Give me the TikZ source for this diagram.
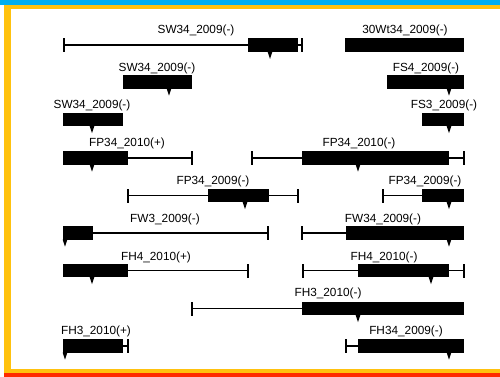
\documentclass[tikz,border=0pt]{standalone}
\usepackage{fontspec}
\setmainfont{Liberation Sans}
\definecolor{fblue}{HTML}{00AEEF}
\definecolor{forange}{HTML}{FFC20E}
\definecolor{fred}{HTML}{FF2A00}
\newcommand\genetri[2]{\fill (#1-2.3,#2) -- (#1+2.3,#2) -- (#1,#2+7) -- cycle;}
\begin{document}
\begin{tikzpicture}[x=1pt,y=-1pt,
  exon/.style={fill=black, inner sep=0pt, outer sep=0pt, minimum height=13.5pt, anchor=west},
  tickmark/.style={fill=black, inner sep=0pt, outer sep=0pt, minimum height=14pt, minimum width=1.3pt},
  intron/.style={line width=1.2pt},
  lab/.style={inner sep=0pt, font=\fontsize{11.8}{12}\selectfont}]
\useasboundingbox (0,0) rectangle (500,377);
\fill[white] (0,0) rectangle (500,377);
% frame
\fill[fblue] (0,0) rectangle (500,5.5);
\fill[forange] (4,5.5) rectangle (500,9.5);
\fill[forange] (4,5.5) rectangle (11,373);
\fill[forange] (4,369) rectangle (500,373);
\fill[fred] (4,373) rectangle (500,377);

% row 1
\node[lab] (l1a) at (196,30) {SW34\_2009(-)};
\node[tickmark] (t1a) at (64,45) {};
\node[exon, minimum width=50pt] (e1a) at (248,45) {};
\node[tickmark] (t1b) at (302,45) {};
\draw[intron] (t1a) -- (e1a);
\draw[intron] (e1a) -- (t1b);
\genetri{270}{52}
\node[lab] (l1b) at (405,30) {30Wt34\_2009(-)};
\node[exon, minimum width=119pt] (e1b) at (345,45) {};

% row 2
\node[lab] (l2a) at (157,68) {SW34\_2009(-)};
\node[exon, minimum width=69pt] (e2a) at (123,82) {};
\genetri{169}{88.7}
\node[lab] (l2b) at (426,68) {FS4\_2009(-)};
\node[exon, minimum width=77pt] (e2b) at (387,82) {};
\genetri{449}{88.7}

% row 3
\node[lab] (l3a) at (92,105) {SW34\_2009(-)};
\node[exon, minimum width=60pt] (e3a) at (63,119.5) {};
\genetri{92}{126.2}
\node[lab] (l3b) at (444,105) {FS3\_2009(-)};
\node[exon, minimum width=42pt] (e3b) at (422,119.5) {};
\genetri{449}{126.2}

% row 4
\node[lab] (l4a) at (127,143) {FP34\_2010(+)};
\node[exon, minimum width=65pt] (e4a) at (63,158) {};
\node[tickmark] (t4a) at (192,158) {};
\draw[intron] (e4a) -- (t4a);
\genetri{92}{164.7}
\node[lab] (l4b) at (359,143) {FP34\_2010(-)};
\node[tickmark] (t4b) at (252,158) {};
\node[exon, minimum width=147pt] (e4b) at (302,158) {};
\node[tickmark] (t4c) at (464,158) {};
\draw[intron] (t4b) -- (e4b);
\draw[intron] (e4b) -- (t4c);
\genetri{358}{164.7}

% row 5
\node[lab] (l5a) at (213,181) {FP34\_2009(-)};
\node[tickmark] (t5a) at (128,195.5) {};
\node[exon, minimum width=61pt] (e5a) at (208,195.5) {};
\node[tickmark] (t5b) at (298,195.5) {};
\draw[intron] (t5a) -- (e5a);
\draw[intron] (e5a) -- (t5b);
\genetri{245}{202.2}
\node[lab] (l5b) at (425,181) {FP34\_2009(-)};
\node[tickmark] (t5c) at (383,195.5) {};
\node[exon, minimum width=42pt] (e5b) at (422,195.5) {};
\draw[intron] (t5c) -- (e5b);
\genetri{449}{202.2}

% row 6
\node[lab] (l6a) at (165,219) {FW3\_2009(-)};
\node[exon, minimum width=30pt] (e6a) at (63,233) {};
\node[tickmark] (t6a) at (268,233) {};
\draw[intron] (e6a) -- (t6a);
\genetri{65}{239.7}
\node[lab] (l6b) at (383,219) {FW34\_2009(-)};
\node[tickmark] (t6b) at (302,233) {};
\node[exon, minimum width=118pt] (e6b) at (346,233) {};
\draw[intron] (t6b) -- (e6b);
\genetri{449}{239.7}

% row 7
\node[lab] (l7a) at (156,257) {FH4\_2010(+)};
\node[exon, minimum width=65pt] (e7a) at (63,270.5) {};
\node[tickmark] (t7a) at (248,270.5) {};
\draw[intron] (e7a) -- (t7a);
\genetri{92}{277.2}
\node[lab] (l7b) at (384,257) {FH4\_2010(-)};
\node[tickmark] (t7b) at (303,270.5) {};
\node[exon, minimum width=91pt] (e7b) at (358,270.5) {};
\node[tickmark] (t7c) at (464,270.5) {};
\draw[intron] (t7b) -- (e7b);
\draw[intron] (e7b) -- (t7c);
\genetri{431}{277.2}

% row 8
\node[lab] (l8a) at (328,293) {FH3\_2010(-)};
\node[tickmark] (t8a) at (192,308.5) {};
\node[exon, minimum width=162pt] (e8a) at (302,308.5) {};
\draw[intron] (t8a) -- (e8a);
\genetri{358}{315.2}

% row 9
\node[lab] (l9a) at (96,331) {FH3\_2010(+)};
\node[exon, minimum width=60pt] (e9a) at (63,346) {};
\node[tickmark] (t9a) at (128,346) {};
\draw[intron] (e9a) -- (t9a);
\genetri{65}{352.7}
\node[lab] (l9b) at (406,331) {FH34\_2009(-)};
\node[tickmark] (t9b) at (346,346) {};
\node[exon, minimum width=106pt] (e9b) at (358,346) {};
\draw[intron] (t9b) -- (e9b);
\genetri{449}{352.7}
\end{tikzpicture}
\end{document}
